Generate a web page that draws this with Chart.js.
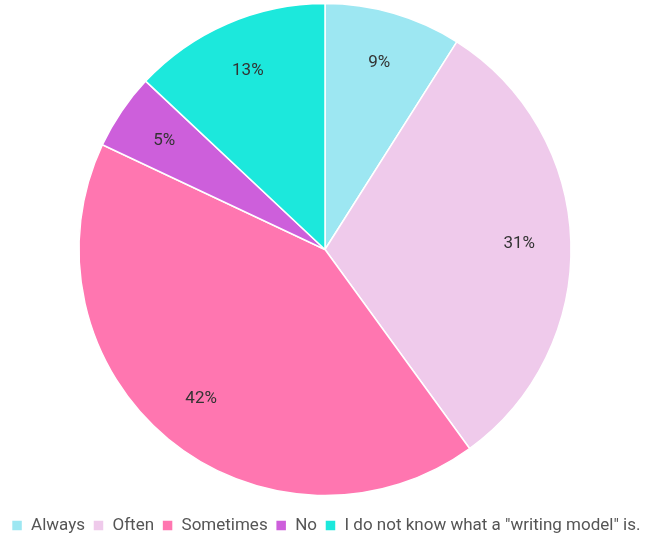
<!DOCTYPE html>
<html lang="en">
<head>
    <meta charset="UTF-8">
    <title>Writing model use</title>
    <script src="https://cdn.jsdelivr.net/npm/chart.js"></script>
    <style>
        html, body { margin: 0; padding: 0; background: #fff; overflow: hidden; }
        #frame { width: 648px; height: 536px; overflow: hidden; position: relative; }
        #wrap { position: absolute; left: 0; top: -10px; width: 648px; height: 546px; }
    </style>
</head>
<body>
    <div id="frame"><div id="wrap"><canvas id="pieChart"></canvas></div></div>
    <script>
        // data
        const categories = ["Always", "Often", "Sometimes", "No", "I do not know what a \"writing model\" is."];
        const shares = [9, 31, 42, 5, 13];
        const sliceColors = ["#9de7f2", "#efcaeb", "#ff76b0", "#cd5fdb", "#1ce8dc"];

        // percent labels inside each slice
        const sliceLabels = {
            id: "sliceLabels",
            afterDatasetsDraw(chart) {
                const ctx = chart.ctx;
                const meta = chart.getDatasetMeta(0);
                const total = shares.reduce((a, b) => a + b, 0);
                ctx.save();
                ctx.font = "17px Roboto";
                ctx.fillStyle = "#333";
                ctx.textAlign = "center";
                ctx.textBaseline = "middle";
                meta.data.forEach((arc, i) => {
                    const mid = (arc.startAngle + arc.endAngle) / 2;
                    const r = arc.outerRadius * 0.79;
                    const x = arc.x + Math.cos(mid) * r;
                    const y = arc.y + Math.sin(mid) * r;
                    ctx.fillText(Math.round(shares[i] / total * 100) + "%", x, y);
                });
                ctx.restore();
            }
        };

        new Chart(document.getElementById("pieChart"), {
            type: "pie",
            data: {
                labels: categories,
                datasets: [{
                    data: shares,
                    backgroundColor: sliceColors,
                    borderColor: "#fff",
                    borderWidth: 1.5
                }]
            },
            options: {
                responsive: true,
                maintainAspectRatio: false,
                animation: false,
                radius: 246,
                layout: { padding: { top: 0, left: 2, right: -2, bottom: -8 } },
                plugins: {
                    tooltip: { enabled: false },
                    legend: {
                        position: "bottom",
                        labels: {
                            boxWidth: 11,
                            boxHeight: 11,
                            padding: 8,
                            color: "#555",
                            font: { family: "Roboto", size: 17 }
                        }
                    }
                }
            },
            plugins: [sliceLabels]
        });
    </script>
</body>
</html>
